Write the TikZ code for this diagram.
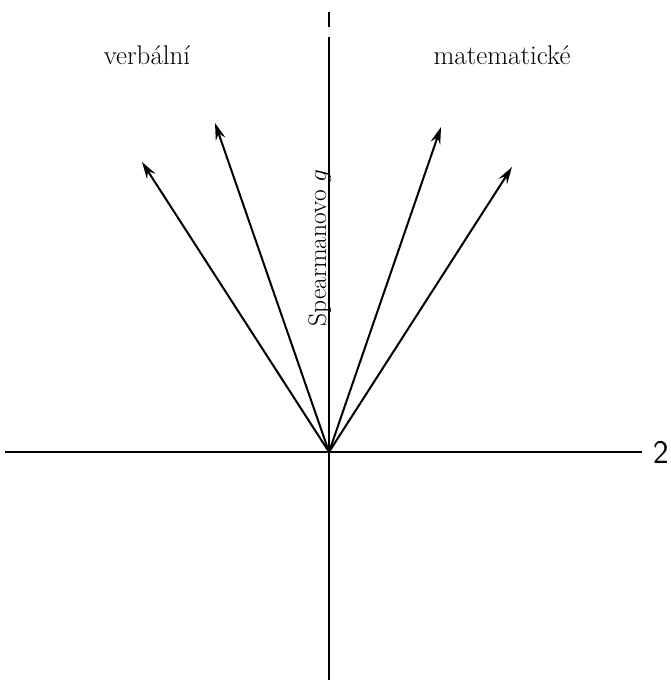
\RequirePackage{fix-cm}
\documentclass[tikz,border=0pt]{standalone}
\usepackage{fontspec}
\usetikzlibrary{arrows.meta}
\begin{document}
\begin{tikzpicture}[x=1pt,y=-1pt,
  axis/.style={line width=1.6pt},
  vec/.style={line width=2pt,-{Stealth[length=17pt,width=10pt,inset=6pt]}},
  lbl/.style={font=\fontsize{27}{31}\selectfont},
  vlbl/.style={font=\fontsize{25.5}{30}\selectfont},
  numlbl/.style={font=\fontsize{33}{38}\selectfont\sffamily}]
\useasboundingbox (0,0) rectangle (671,682);
\coordinate (O) at (329,452);
\coordinate (L) at (5,452);
\coordinate (R) at (642,452);
\coordinate (T0) at (329,12);
\coordinate (T1) at (329,27);
\coordinate (T2) at (329,37);
\coordinate (B) at (329,680);
\coordinate (A1) at (142,162);
\coordinate (A2) at (215,123);
\coordinate (A3) at (441,127);
\coordinate (A4) at (512,167);
\draw[axis] (L) -- (R);
\draw[axis] (T0) -- (T1);
\draw[axis] (T2) -- (B);
\node[numlbl] (two) at (661,452) {2};
\node[lbl,anchor=base] (verb) at (147,65) {verbální};
\node[lbl,anchor=base] (mat) at (502,65) {matematické};
\node[vlbl,rotate=90,anchor=base] (sg) at (326,248) {Spearmanovo $g$};
\foreach \t in {A1,A2,A3,A4} \draw[vec] (O) -- (\t);
\end{tikzpicture}
\end{document}
